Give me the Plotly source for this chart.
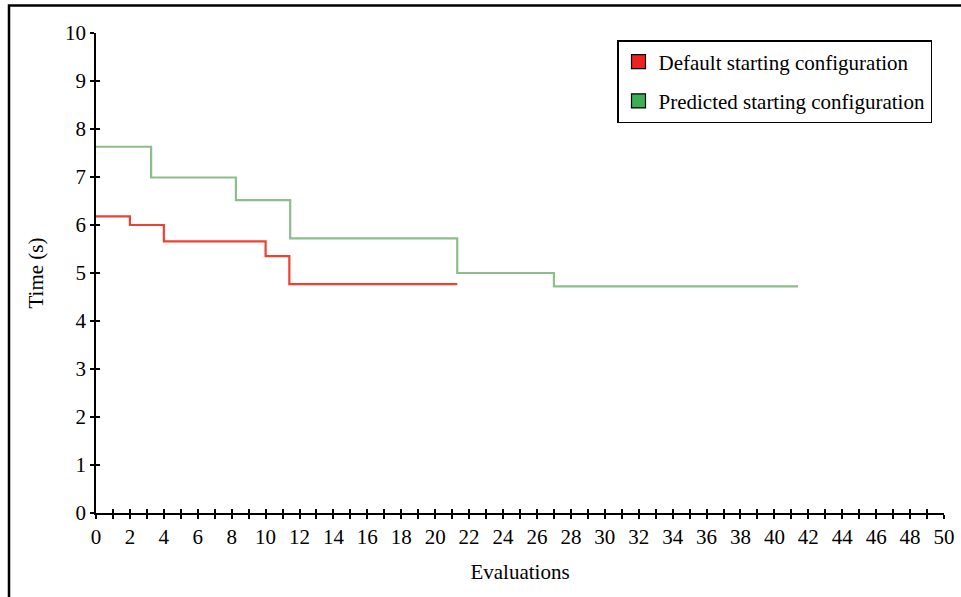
import plotly.graph_objects as go

# Data
default_x = [0, 2, 4, 10, 11.4, 21.3]
default_y = [6.18, 6.0, 5.66, 5.35, 4.77, 4.77]
predicted_x = [0, 3.25, 8.25, 11.45, 21.3, 27.0, 41.4]
predicted_y = [7.63, 6.99, 6.52, 5.72, 5.0, 4.72, 4.72]
series_names = ["Default starting configuration", "Predicted starting configuration"]
x_tick_vals = list(range(0, 51))
x_tick_text = [str(v) if v % 2 == 0 else "" for v in x_tick_vals]
y_tick_vals = list(range(0, 11))

FONT = "Liberation Serif"
FS = 21
line_colors = ["#F0402F", "#8CBD8A"]
legend_colors = ["#EE2222", "#3DAE55"]

PL, PR, PT, PB = 96, 944, 33, 513  # plot area in px
W, H = 961, 597
PW, PH = PR - PL, PB - PT

fig = go.Figure()
fig.add_trace(go.Scatter(x=default_x, y=default_y, mode="lines", line_shape="hv",
                         line=dict(color=line_colors[0], width=2.2), showlegend=False))
fig.add_trace(go.Scatter(x=predicted_x, y=predicted_y, mode="lines", line_shape="hv",
                         line=dict(color=line_colors[1], width=2.2), showlegend=False))
for name, c in zip(series_names, legend_colors):
    fig.add_trace(go.Scatter(x=[None], y=[None], mode="markers", name=name,
                             legendgroup=name,
                             marker=dict(symbol="square", size=14, color=c,
                                         line=dict(color="black", width=1.2))))
# dummy trace for overlay axes (inside ticks)
fig.add_trace(go.Scatter(x=[None], y=[None], xaxis="x2", yaxis="y2", showlegend=False,
                         hoverinfo="skip"))

axis_common = dict(showgrid=False, zeroline=False, linecolor="black", linewidth=1.5,
                   tickcolor="black", tickwidth=1.5, automargin=False,
                   tickfont=dict(family=FONT, size=FS, color="black"))

fig.update_layout(
    width=W, height=H,
    margin=dict(l=PL, r=W - PR, t=PT, b=H - PB),
    paper_bgcolor="white", plot_bgcolor="white",
    font=dict(family=FONT, size=FS, color="black"),
    xaxis=dict(range=[0, 50], tickmode="array", tickvals=x_tick_vals, ticktext=x_tick_text,
               ticks="outside", ticklen=4, showline=True,
               title=dict(text="Evaluations", font=dict(family=FONT, size=FS), standoff=16),
               **axis_common),
    yaxis=dict(range=[0, 10], tickmode="array", tickvals=y_tick_vals,
               ticks="outside", ticklen=4, showline=True,
               title=dict(text="Time (s)", font=dict(family=FONT, size=FS), standoff=16),
               **axis_common),
    xaxis2=dict(range=[0, 50], overlaying="x", anchor="y2", tickmode="array",
                tickvals=x_tick_vals, showticklabels=False, ticks="inside", ticklen=4,
                showline=False, showgrid=False, zeroline=False, tickcolor="black", tickwidth=1.5),
    yaxis2=dict(range=[0, 10], overlaying="y", anchor="x2", tickmode="array",
                tickvals=y_tick_vals, showticklabels=False, ticks="inside", ticklen=4,
                showline=False, showgrid=False, zeroline=False, tickcolor="black", tickwidth=1.5),
    legend=dict(x=(617 - PL) / PW, y=1 + (PT - 40) / PH, xanchor="left", yanchor="top",
                bordercolor="black", borderwidth=1.5, bgcolor="white",
                font=dict(family=FONT, size=FS, color="black"),
                tracegroupgap=9, itemwidth=30),
    showlegend=True,
)
fig.add_shape(type="rect", xref="paper", yref="paper",
              x0=(9 - PL) / PW, x1=1.2, y0=-0.4, y1=1 + (PT - 5.5) / PH,
              line=dict(color="black", width=2.5), fillcolor="rgba(0,0,0,0)", layer="above")

fig.write_html("out.html", config={"displayModeBar": False},
               post_script="document.body.style.margin='0px';document.body.style.overflow='hidden';")
